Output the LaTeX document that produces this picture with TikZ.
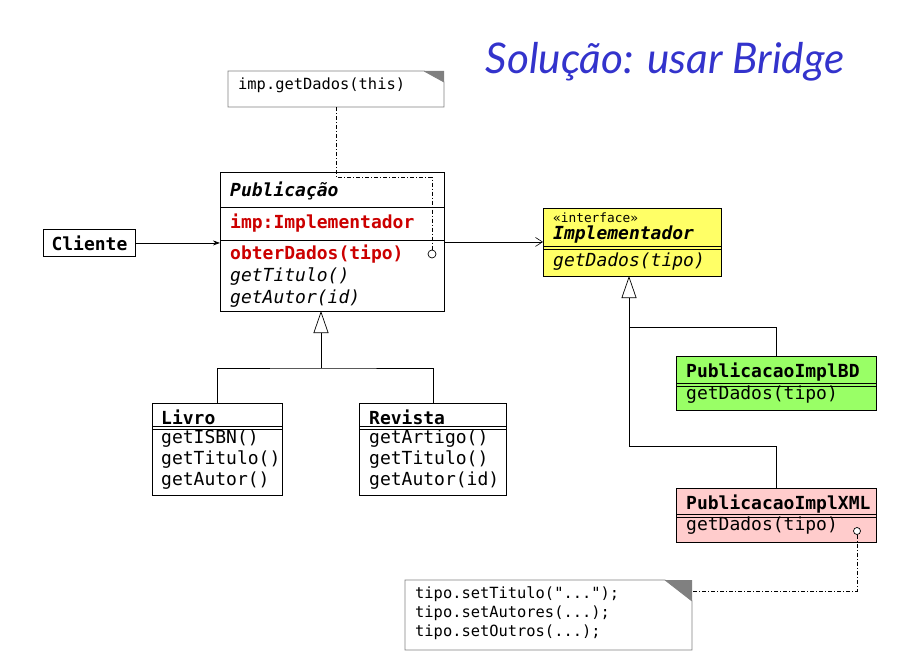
\documentclass[tikz,border=0pt]{standalone}
\usepackage{fontspec}
\setmonofont{DejaVu Sans Mono}
\newfontfamily\titlefont{Lato}
\usetikzlibrary{arrows.meta}
\definecolor{umlred}{HTML}{CC0000}
\definecolor{umlblue}{HTML}{3333CC}
\definecolor{umlyellow}{HTML}{FFFF66}
\definecolor{umlgreen}{HTML}{99FF66}
\definecolor{umlpink}{HTML}{FFCCCC}
\definecolor{notegray}{HTML}{808080}
\newcommand\mfs{\fontsize{18}{20}\selectfont}
\begin{document}
\begin{tikzpicture}[x=1pt,y=-1pt,
  classbox/.style={draw=black, line width=0.9pt, inner sep=0pt, anchor=north west},
  mtxt/.style={anchor=west, inner sep=0pt, font=\ttfamily\mfs},
  ntxt/.style={anchor=west, inner sep=0pt, font=\ttfamily\fontsize{15.4}{17}\selectfont},
  stxt/.style={anchor=west, inner sep=0pt, font=\ttfamily\fontsize{12.8}{14}\selectfont},
  sep/.style={line width=0.9pt},
  dsep/.style={line width=0.6pt},
  notebox/.style={inner sep=0pt, anchor=north west},
  noteline/.style={draw=notegray, line width=0.8pt, fill=white},
  dd/.style={line width=0.6pt, dash pattern=on 4pt off 2pt on 1pt off 2pt},
  pin/.style={circle, draw=black, fill=white, line width=0.7pt, minimum size=8pt, inner sep=0pt},
  inh/.style={line width=0.7pt, -{Triangle[open,length=22pt,width=15pt,line width=0.7pt]}},
  assoc/.style={line width=0.7pt, -{Straight Barb[length=7pt,width=9pt,line width=0.6pt]}},
  dep/.style={line width=0.7pt, -{Stealth[length=7pt,width=5pt]}}
]
\useasboundingbox[fill=white] (0,0) rectangle (917,655);

% title
\node[font=\titlefont\itshape\fontsize{42.3}{46}\selectfont, text=umlblue, inner sep=0pt] (title) at (665,62) {Solução: usar Bridge};

% note 1
\node[notebox, minimum width=216pt, minimum height=36pt] (note1) at (228,71) {};
\draw[noteline] (228,71) -- (424,71) -- (444,82) -- (444,107) -- (228,107) -- cycle;
\fill[notegray] (424,71) -- (444,71) -- (444,82) -- cycle;
\node[ntxt] (note1t) at (238,85) {imp.getDados(this)};

% Publicacao
\node[classbox, minimum width=224pt, minimum height=139pt] (pub) at (220,172) {};
\draw[sep] (220,207) -- (444,207);
\draw[sep] (220,240) -- (444,240);
\node[mtxt, font=\ttfamily\bfseries\itshape\mfs] (pubname) at (230,191) {Publicação};
\node[mtxt, font=\ttfamily\bfseries\mfs, text=umlred] (pubattr) at (230,223) {imp:Implementador};
\node[mtxt, font=\ttfamily\bfseries\mfs, text=umlred] (pubop1) at (230,254) {obterDados(tipo)};
\node[mtxt, font=\ttfamily\itshape\mfs] (pubop2) at (230,277) {getTitulo()};
\node[mtxt, font=\ttfamily\itshape\mfs] (pubop3) at (230,299) {getAutor(id)};
\node[pin] (c1) at (432,254) {};

% Cliente
\node[classbox, minimum width=92pt, minimum height=27pt, font=\ttfamily\bfseries\mfs] (cliente) at (43,229) {Cliente};

% Implementador
\node[classbox, fill=umlyellow, minimum width=178pt, minimum height=68pt] (impl) at (543,208) {};
\draw[dsep] (543,246) -- (721,246);
\draw[dsep] (543,249) -- (721,249);
\node[stxt] (implst) at (553,218) {«interface»};
\node[mtxt, font=\ttfamily\bfseries\itshape\mfs] (implname) at (553,235) {Implementador};
\node[mtxt, font=\ttfamily\itshape\mfs] (implop) at (553,262) {getDados(tipo)};

% PublicacaoImplBD
\node[classbox, fill=umlgreen, minimum width=200pt, minimum height=54pt] (bd) at (676,356) {};
\draw[dsep] (676,383) -- (876,383);
\draw[dsep] (676,386) -- (876,386);
\node[mtxt, font=\ttfamily\bfseries\mfs] (bdname) at (686,372) {PublicacaoImplBD};
\node[mtxt] (bdop) at (686,395) {getDados(tipo)};

% PublicacaoImplXML
\node[classbox, fill=umlpink, minimum width=200pt, minimum height=54pt] (xml) at (676,488) {};
\draw[dsep] (676,514) -- (876,514);
\draw[dsep] (676,517) -- (876,517);
\node[mtxt, font=\ttfamily\bfseries\mfs] (xmlname) at (686,504) {PublicacaoImplXML};
\node[mtxt] (xmlop) at (686,526) {getDados(tipo)};
\node[pin, minimum size=7pt] (c2) at (857,531) {};

% Livro
\node[classbox, minimum width=130pt, minimum height=92pt] (livro) at (152,403) {};
\draw[dsep] (152,426) -- (282,426);
\draw[dsep] (152,429) -- (282,429);
\node[mtxt, font=\ttfamily\bfseries\mfs] (livroname) at (161,417) {Livro};
\node[mtxt] (livroop1) at (161,439) {getISBN()};
\node[mtxt] (livroop2) at (161,460) {getTitulo()};
\node[mtxt] (livroop3) at (161,481) {getAutor()};

% Revista
\node[classbox, minimum width=147pt, minimum height=92pt] (revista) at (359,403) {};
\draw[dsep] (359,426) -- (506,426);
\draw[dsep] (359,429) -- (506,429);
\node[mtxt, font=\ttfamily\bfseries\mfs] (revistaname) at (369,417) {Revista};
\node[mtxt] (revistaop1) at (369,439) {getArtigo()};
\node[mtxt] (revistaop2) at (369,460) {getTitulo()};
\node[mtxt] (revistaop3) at (369,481) {getAutor(id)};

% note 2
\node[notebox, minimum width=287pt, minimum height=70pt] (note2) at (405,580) {};
\draw[noteline] (405,580) -- (665,580) -- (692,601) -- (692,650) -- (405,650) -- cycle;
\fill[notegray] (665,580) -- (692,580) -- (692,601) -- cycle;
\node[ntxt] (note2a) at (415,594) {tipo.setTitulo("...");};
\node[ntxt] (note2b) at (415,613) {tipo.setAutores(...);};
\node[ntxt] (note2c) at (415,632) {tipo.setOutros(...);};
\coordinate (n2in) at (692,591);

% connectors
\draw[dep] (cliente.east) -- (cliente.east -| pub.west);
\draw[assoc] (pub.east) -- (pub.east -| impl.west);

\coordinate (pubtip) at (321,311);
\coordinate (pubjoin) at (321,368);
\draw[line width=0.9pt] (livro.north) |- (pubjoin) -| (revista.north);
\draw[inh] (pubjoin) -- (pubtip);

\coordinate (impltip) at (629,276);
\coordinate (impljoin) at (629,446);
\coordinate (bdjoin) at (629,327);
\draw[line width=0.9pt] (xml.north) |- (impljoin);
\draw[line width=0.9pt] (bd.north) |- (bdjoin);
\draw[inh] (impljoin) -- (impltip);

\draw[dd] (note1.south) -- ++(0,70) -| (c1.north);
\draw[dd] (c2.south) |- (n2in);
\end{tikzpicture}
\end{document}
